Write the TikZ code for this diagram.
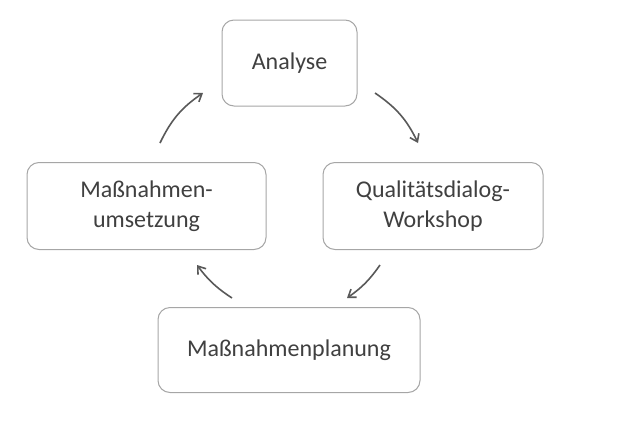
\documentclass[tikz,border=0pt]{standalone}
\usepackage{fontspec}
\setmainfont{Carlito}
\usetikzlibrary{arrows.meta}
\begin{document}
\begin{tikzpicture}[x=1pt,y=-1pt,
  box/.style={draw=gray!70,line width=1pt,rounded corners=12pt,fill=white,align=center,font=\fontsize{24}{30}\selectfont,text=black!75,inner sep=0pt},
  arr/.style={draw=black!65,line width=1.6pt,-{Straight Barb[length=7pt,width=10pt]}}]
\useasboundingbox (0,0) rectangle (630,445);
\node[box,minimum width=135,minimum height=86] (a) at (289.5,63) {Analyse};
\node[box,minimum width=220,minimum height=87] (q) at (433,206) {Qualitätsdialog-\\Workshop};
\node[box,minimum width=239,minimum height=87] (u) at (146.5,206) {Maßnahmen-\\umsetzung};
\node[box,minimum width=262,minimum height=85] (p) at (289,350) {Maßnahmenplanung};
\coordinate (a1) at (160,143); \coordinate (a2) at (203,93);
\coordinate (b1) at (375,93); \coordinate (b2) at (418,143);
\coordinate (c1) at (380,265); \coordinate (c2) at (347,298);
\coordinate (d1) at (232,298); \coordinate (d2) at (197,265);
\draw[arr] (a1) to[bend left=15] (a2);
\draw[arr] (b1) to[bend left=15] (b2);
\draw[arr] (c1) to[bend left=10] (c2);
\draw[arr] (d1) to[bend left=10] (d2);
\end{tikzpicture}
\end{document}
